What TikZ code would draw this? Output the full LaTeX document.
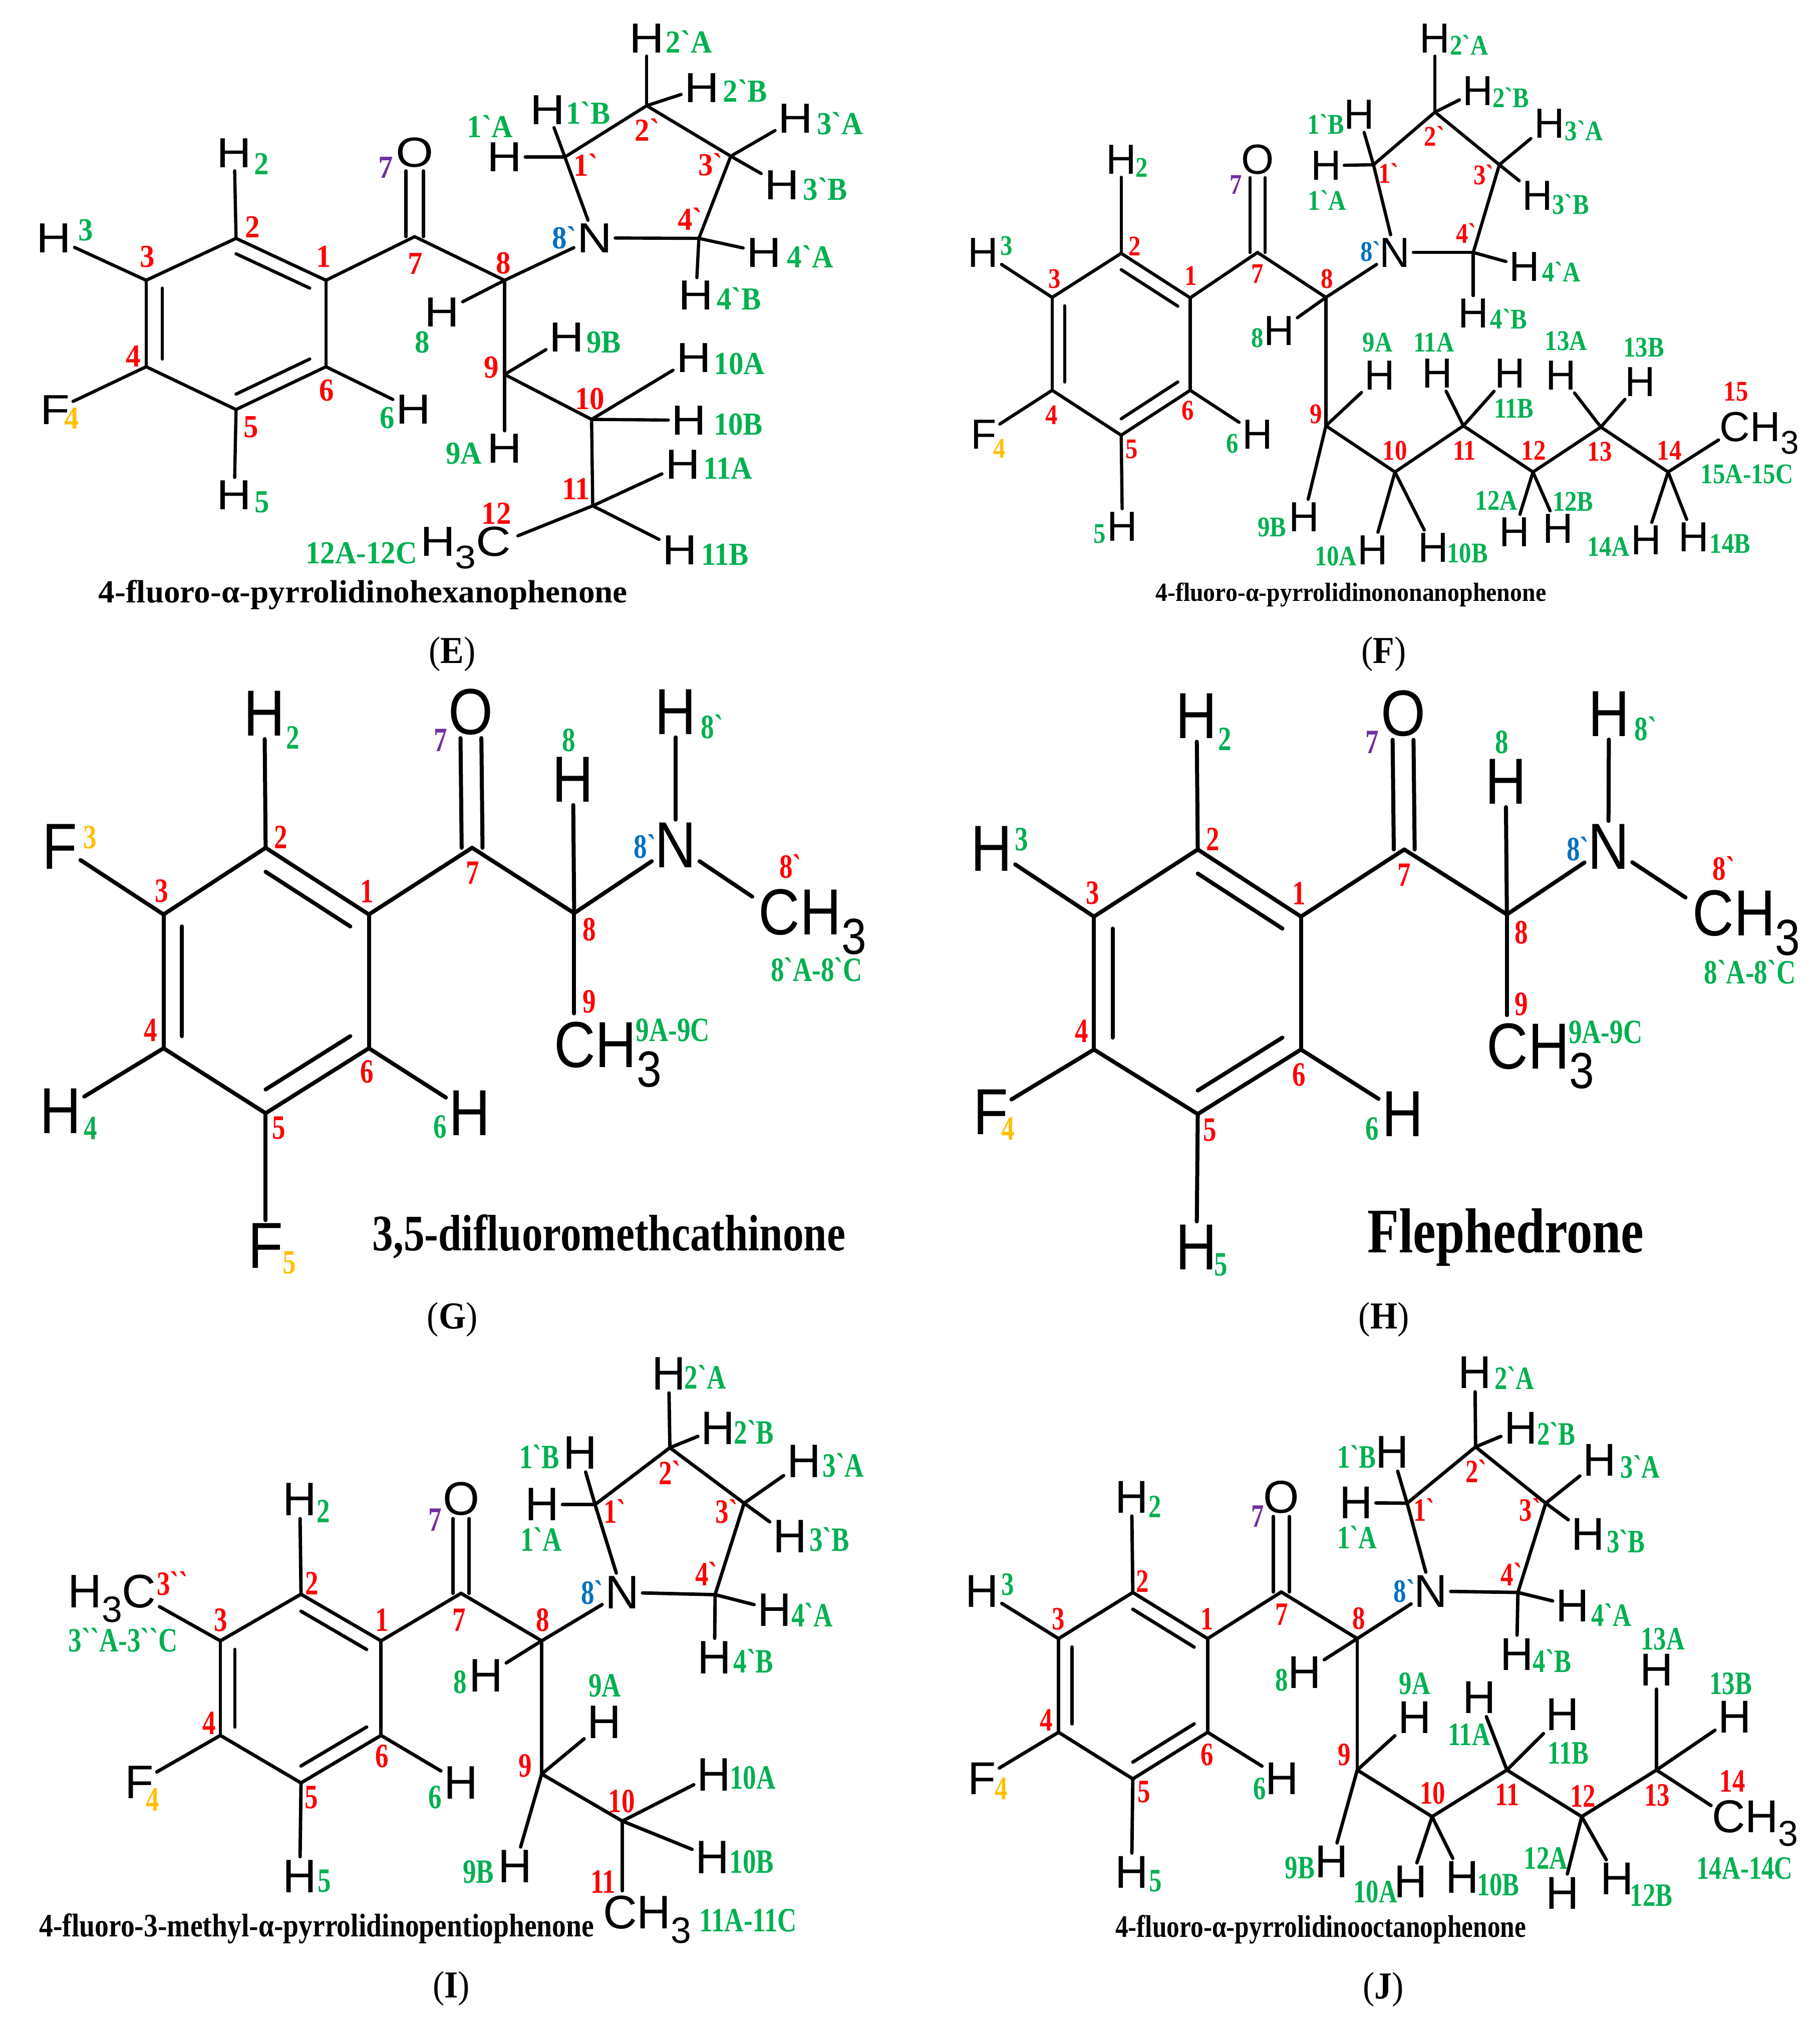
\documentclass[tikz,border=0pt]{standalone}
\usepackage{fontspec}
\usepackage{graphicx}
\usetikzlibrary{calc}
\setmainfont{Liberation Serif}
\newfontfamily\sansN{Liberation Sans}
\newfontfamily\sansW{Liberation Sans}[FakeStretch=1.15]
\newfontfamily\sansC{Liberation Sans}[FakeStretch=0.88]
\newfontfamily\serA{Liberation Serif}[FakeStretch=0.92,Ligatures=ResetAll]
\newfontfamily\serB{Liberation Serif}[FakeStretch=0.86,Ligatures=ResetAll]
\newfontfamily\serC{Liberation Serif}[FakeStretch=0.78,Ligatures=ResetAll]
\newcommand\fs[1]{\fontsize{#1}{#1}\selectfont}
\newcommand\sbs[1]{\raisebox{-.3em}{\scalebox{.78}{#1}}}
\definecolor{cgreen}{HTML}{00B050}
\definecolor{cred}{HTML}{FF0000}
\definecolor{cblue}{HTML}{0070C0}
\definecolor{cpurple}{HTML}{7030A0}
\definecolor{corange}{HTML}{FFC000}
\newcounter{lab}
\tikzset{
  atom/.style={inner sep=1.6pt,outer sep=0pt,text=black,font=\psans\fs{\asz}},
  lab/.style={inner sep=0pt,outer sep=0pt,font=\pser\bfseries\fs{\lsz}},
  bond/.style={draw=black,line width=\blw,line cap=round},
  captxt/.style={inner sep=0pt,font=\bfseries\fs{20}},
  plab/.style={inner sep=0pt,font=\pplab},
}
\newcommand\pplab{\serA\fs{19}}
\newcommand\CA[3]{\coordinate (#1) at (#2,#3);}
\newcommand\AT[4]{\node[atom] (#1) at (#2,#3) {#4};}
\newcommand\Lg[3]{\stepcounter{lab}\node[lab,text=cgreen] (g\thelab) at (#1,#2) {#3};}
\newcommand\Lr[3]{\stepcounter{lab}\node[lab,text=cred] (r\thelab) at (#1,#2) {#3};}
\newcommand\Lb[3]{\stepcounter{lab}\node[lab,text=cblue] (b\thelab) at (#1,#2) {#3};}
\newcommand\Lp[3]{\stepcounter{lab}\node[lab,text=cpurple] (p\thelab) at (#1,#2) {#3};}
\newcommand\Lo[3]{\stepcounter{lab}\node[lab,text=corange] (y\thelab) at (#1,#2) {#3};}
\newcommand\BL[1]{\foreach \pa/\pb in {#1}{\draw[bond] (\pa) -- (\pb);}}
\newcommand\BENZ[1]{%
  \BL{c1/c2,c2/c3,c3/c4,c4/c5,c5/c6,c6/c1,c1/c7,c7/c8}
  \draw[bond] ($(c1)!.18!(cen)$) -- ($(c2)!.18!(cen)$);
  \draw[bond] ($(c3)!.18!(cen)$) -- ($(c4)!.18!(cen)$);
  \draw[bond] ($(c5)!.18!(cen)$) -- ($(c6)!.18!(cen)$);
  \draw[bond] ($(c7)+(-#1,0)$) -- ($(o.south)+(-#1,0)$);
  \draw[bond] ($(c7)+(#1,0)$) -- ($(o.south)+(#1,0)$);
}
\newcommand\CAP[5]{\node[captxt] (caption) at (#1,#2) {\resizebox{#3pt}{#4pt}{#5}};}
\newcommand\PL[3]{\node[plab] (panellabel) at (#1,#2) {(\textbf{#3})};}
\begin{document}
\begin{tikzpicture}
\useasboundingbox (0pt,0pt) rectangle (908.25pt,-1010.5pt);
\fill[white] (0pt,0pt) rectangle (908.25pt,-1010.5pt);
% ===== E =====
\def\psans{\sansW}\def\pser{\serA}\def\asz{21}\def\lsz{16}\def\blw{1.6pt}
\begin{scope}[x=0.2895pt,y=-0.21365pt,name prefix=E-]
\CA{c1}{562}{655}\CA{c2}{407}{557}\CA{c3}{252}{655}\CA{c4}{252}{857}\CA{c5}{407}{957}\CA{c6}{562}{857}\CA{cen}{407}{757}
\CA{c7}{715}{553}\CA{c8}{870}{655}\CA{c9}{870}{875}\CA{c10}{1020}{980}\CA{c11}{1022}{1182}
\CA{p1}{974}{367}\CA{p2}{1115}{247}\CA{p3}{1260}{365}\CA{p4}{1205}{557}
\AT{h2}{404}{358}{H}\Lg{451}{383}{2}
\AT{h3}{93}{556}{H}\Lg{148}{538}{3}
\AT{f}{95}{958}{F}\Lo{124}{978}{4}
\AT{h5}{404}{1157}{H}\Lg{452}{1173}{5}
\AT{h6}{713}{957}{H}\Lg{668}{977}{6}
\AT{o}{715}{357}{O}\Lp{665}{392}{7}
\AT{h8}{762}{730}{H}\Lg{728}{800}{8}
\AT{n}{1025}{556}{N}\Lb{973}{555}{8`}
\AT{h1a}{870}{367}{H}\Lg{845}{295}{1`A}
\AT{h1b}{944}{257}{H}\Lg{1014}{264}{1`B}
\AT{h2a}{1115}{90}{H}\Lg{1188}{98}{2`A}
\AT{h2b}{1210}{205}{H}\Lg{1285}{212}{2`B}
\AT{h3a}{1372}{277}{H}\Lg{1448}{288}{3`A}
\AT{h3b}{1348}{433}{H}\Lg{1423}{442}{3`B}
\AT{h4a}{1317}{590}{H}\Lg{1397}{600}{4`A}
\AT{h4b}{1200}{690}{H}\Lg{1274}{698}{4`B}
\AT{h9b}{977}{788}{H}\Lg{1041}{800}{9B}
\AT{h9a}{870}{1048}{H}\Lg{800}{1060}{9A}
\AT{h10a}{1196}{836}{H}\Lg{1275}{850}{10A}
\AT{h10b}{1188}{982}{H}\Lg{1273}{992}{10B}
\AT{h11a}{1177}{1085}{H}\Lg{1255}{1094}{11A}
\AT{h11b}{1172}{1285}{H}\Lg{1250}{1296}{11B}
\AT{ch3}{803}{1280}{H\sbs{3}C}\Lg{623}{1293}{12A-12C}
\CA{ch3e}{893}{1252}
\Lr{558}{600}{1}\Lr{435}{530}{2}\Lr{254}{600}{3}\Lr{230}{832}{4}\Lr{433}{998}{5}\Lr{563}{912}{6}\Lr{716}{616}{7}\Lr{868}{615}{8}\Lr{847}{858}{9}\Lr{1017}{932}{10}\Lr{993}{1143}{11}\Lr{856}{1200}{12}
\Lr{1010}{385}{1`}\Lr{1116}{303}{2`}\Lr{1225}{385}{3`}\Lr{1190}{512}{4`}
\BENZ{15}
\BL{c8/n,c8/c9,c9/c10,c10/c11,c11/ch3e,n/p1,p1/p2,p2/p3,p3/p4,p4/n,c2/h2,c3/h3,c4/f,c5/h5,c6/h6,c8/h8,c9/h9a,c9/h9b,c10/h10a,c10/h10b,c11/h11a,c11/h11b,p1/h1a,p1/h1b,p2/h2a,p2/h2b,p3/h3a,p3/h3b,p4/h4a,p4/h4b}
\CAP{626}{1390}{264}{11.3}{4-fluoro-α-pyrrolidinohexanophenone}
\PL{780}{1529}{E}
\end{scope}
% ===== F =====
\def\psans{\sansN}\def\pser{\serB}\def\asz{21}\def\lsz{14.2}\def\blw{1.6pt}
\begin{scope}[shift={(454pt,0pt)},x=0.2895pt,y=-0.21365pt,name prefix=F-]
\CA{c1}{484}{696}\CA{c2}{365}{592}\CA{c3}{246}{695}\CA{c4}{246}{912}\CA{c5}{365}{1017}\CA{c6}{484}{912}\CA{cen}{365}{804}
\CA{c7}{600}{590}\CA{c8}{718}{695}\CA{c9}{718}{995}\CA{c10}{837}{1103}\CA{c11}{955}{995}\CA{c12}{1075}{1103}\CA{c13}{1192}{998}\CA{c14}{1308}{1103}
\CA{p1}{800}{385}\CA{p2}{906}{262}\CA{p3}{1017}{385}\CA{p4}{972}{590}
\AT{h2}{365}{373}{H}\Lg{400}{392}{2}
\AT{h3}{127}{590}{H}\Lg{167}{575}{3}
\AT{f}{128}{1015}{F}\Lo{155}{1048}{4}
\AT{h5}{367}{1230}{H}\Lg{328}{1247}{5}
\AT{h6}{600}{1015}{H}\Lg{557}{1037}{6}
\AT{o}{600}{373}{O}\Lp{563}{432}{7}
\AT{h8}{637}{773}{H}\Lg{600}{790}{8}
\AT{n}{837}{590}{N}\Lb{795}{588}{8`}
\AT{h1a}{718}{387}{H}\Lg{720}{468}{1`A}
\AT{h1b}{775}{268}{H}\Lg{718}{290}{1`B}
\AT{h2a}{906}{90}{H}\Lg{965}{105}{2`A}
\AT{h2b}{980}{212}{H}\Lg{1037}{228}{2`B}
\AT{h3a}{1103}{288}{H}\Lg{1163}{305}{3`A}
\AT{h3b}{1083}{457}{H}\Lg{1140}{477}{3`B}
\AT{h4a}{1060}{623}{H}\Lg{1124}{635}{4`A}
\AT{h4b}{972}{732}{H}\Lg{1033}{745}{4`B}
\AT{h9a}{811}{877}{H}\Lg{807}{800}{9A}
\AT{h9b}{680}{1208}{H}\Lg{625}{1232}{9B}
\AT{h10a}{799}{1285}{H}\Lg{735}{1300}{10A}
\AT{h10b}{903}{1280}{H}\Lg{962}{1293}{10B}
\AT{h11a}{910}{873}{H}\Lg{904}{800}{11A}
\AT{h11b}{1035}{873}{H}\Lg{1042}{955}{11B}
\AT{h12a}{1043}{1243}{H}\Lg{1012}{1170}{12A}
\AT{h12b}{1118}{1235}{H}\Lg{1144}{1172}{12B}
\AT{h13a}{1123}{877}{H}\Lg{1132}{797}{13A}
\AT{h13b}{1260}{892}{H}\Lg{1266}{812}{13B}
\AT{ch3}{1465}{1012}{CH\sbs{3}}\Lr{1425}{915}{15}\Lg{1444}{1108}{15A-15C}
\CA{ch3e}{1395}{1028}
\AT{h14a}{1270}{1262}{H}\Lg{1205}{1277}{14A}
\AT{h14b}{1352}{1255}{H}\Lg{1415}{1270}{14B}
\Lr{485}{645}{1}\Lr{388}{575}{2}\Lr{250}{652}{3}\Lr{245}{970}{4}\Lr{383}{1050}{5}\Lr{480}{960}{6}\Lr{600}{640}{7}\Lr{720}{652}{8}\Lr{701}{968}{9}\Lr{837}{1053}{10}\Lr{957}{1053}{11}\Lr{1076}{1053}{12}\Lr{1190}{1055}{13}\Lr{1310}{1053}{14}
\Lr{826}{405}{1`}\Lr{905}{318}{2`}\Lr{990}{408}{3`}\Lr{960}{545}{4`}
\BENZ{13}
\BL{c8/n,c8/c9,c9/c10,c10/c11,c11/c12,c12/c13,c13/c14,c14/ch3e,n/p1,p1/p2,p2/p3,p3/p4,p4/n,c2/h2,c3/h3,c4/f,c5/h5,c6/h6,c8/h8,c9/h9a,c9/h9b,c10/h10a,c10/h10b,c11/h11a,c11/h11b,c12/h12a,c12/h12b,c13/h13a,c13/h13b,c14/h14a,c14/h14b,p1/h1a,p1/h1b,p2/h2a,p2/h2b,p3/h3a,p3/h3b,p4/h4a,p4/h4b}
\CAP{761}{1390}{195}{9.2}{4-fluoro-α-pyrrolidinononanophenone}
\PL{818}{1529}{F}
\end{scope}
% ===== G =====
\def\psans{\sansC}\def\pser{\serC}\def\asz{32.5}\def\lsz{17}\def\blw{2pt}
\begin{scope}[shift={(0pt,-332.5pt)},x=0.2895pt,y=-0.21205pt,name prefix=G-]
\CA{c1}{636}{585}\CA{c2}{458}{428}\CA{c3}{282}{585}\CA{c4}{282}{900}\CA{c5}{458}{1053}\CA{c6}{636}{900}\CA{cen}{458}{742}
\CA{c7}{814}{428}\CA{c8}{990}{582}
\AT{h2}{456}{112}{H}\Lg{505}{168}{2}
\AT{f3}{103}{425}{F}\Lo{155}{403}{3}
\AT{h4}{104}{1048}{H}\Lg{156}{1088}{4}
\AT{h6}{810}{1052}{H}\Lg{759}{1085}{6}
\AT{f5}{458}{1365}{F}\Lo{499}{1405}{5}
\AT{o}{812}{108}{O}\Lp{760}{175}{7}
\AT{h8}{988}{267}{H}\Lg{981}{175}{8}
\AT{n}{1165}{422}{N}\Lb{1112}{425}{8`}
\AT{hn}{1165}{108}{H}\Lg{1228}{143}{8`}
\AT{ch3r}{1401}{602}{CH\sbs{3}}\Lr{1363}{472}{8`}\Lg{1408}{715}{8`A-8`C}
\CA{ch3re}{1297}{543}
\AT{ch3l}{1048}{915}{CH\sbs{3}}\Lg{1160}{858}{9A-9C}
\CA{ch3le}{990}{818}
\Lr{633}{530}{1}\Lr{484}{403}{2}\Lr{279}{530}{3}\Lr{260}{857}{4}\Lr{481}{1088}{5}\Lr{633}{955}{6}\Lr{815}{487}{7}\Lr{1016}{620}{8}\Lr{1016}{790}{9}
\BENZ{18}
\BL{c2/h2,c3/f3,c4/h4,c5/f5,c6/h6,c8/h8,c8/n,n/hn,n/ch3re,c8/ch3le}
\CAP{1050}{1343}{236}{18}{3,5-difluoromethcathinone}
\PL{780}{1539}{G}
\end{scope}
% ===== H =====
\begin{scope}[shift={(454pt,-332.5pt)},x=0.2895pt,y=-0.21205pt,name prefix=H-]
\CA{c1}{675}{590}\CA{c2}{497}{432}\CA{c3}{318}{590}\CA{c4}{318}{903}\CA{c5}{497}{1055}\CA{c6}{675}{903}\CA{cen}{497}{747}
\CA{c7}{853}{432}\CA{c8}{1030}{585}
\AT{h2}{495}{118}{H}\Lg{544}{172}{2}
\AT{h3}{141}{430}{H}\Lg{193}{408}{3}
\AT{f}{140}{1050}{F}\Lo{170}{1090}{4}
\AT{h6}{850}{1055}{H}\Lg{798}{1090}{6}
\AT{h5}{495}{1368}{H}\Lg{537}{1410}{5}
\AT{o}{851}{112}{O}\Lp{798}{180}{7}
\AT{h8}{1028}{272}{H}\Lg{1021}{180}{8}
\AT{n}{1205}{425}{N}\Lb{1152}{430}{8`}
\AT{hn}{1206}{113}{H}\Lg{1269}{148}{8`}
\AT{ch3r}{1443}{605}{CH\sbs{3}}\Lr{1404}{477}{8`}\Lg{1449}{720}{8`A-8`C}
\CA{ch3re}{1338}{545}
\AT{ch3l}{1088}{918}{CH\sbs{3}}\Lg{1200}{862}{9A-9C}
\CA{ch3le}{1030}{822}
\Lr{672}{535}{1}\Lr{523}{408}{2}\Lr{316}{535}{3}\Lr{297}{860}{4}\Lr{518}{1092}{5}\Lr{672}{962}{6}\Lr{853}{492}{7}\Lr{1055}{628}{8}\Lr{1055}{796}{9}
\BENZ{18}
\BL{c2/h2,c3/h3,c4/f,c5/h5,c6/h6,c8/h8,c8/n,n/hn,n/ch3re,c8/ch3le}
\CAP{1028}{1345}{138}{22}{Flephedrone}
\PL{818}{1539}{H}
\end{scope}
% ===== I =====
\def\psans{\sansN}\def\pser{\serC}\def\asz{23.5}\def\lsz{17}\def\blw{1.7pt}
\begin{scope}[shift={(0pt,-662.5pt)},x=0.2895pt,y=-0.22163pt,name prefix=I-]
\CA{c1}{657}{707}\CA{c2}{519}{602}\CA{c3}{380}{707}\CA{c4}{380}{920}\CA{c5}{519}{1027}\CA{c6}{657}{920}\CA{cen}{519}{815}
\CA{c7}{795}{600}\CA{c8}{934}{707}\CA{c9}{934}{1007}\CA{c10}{1073}{1113}
\CA{p1}{1026}{400}\CA{p2}{1155}{272}\CA{p3}{1283}{397}\CA{p4}{1233}{603}
\AT{h2}{517}{388}{H}\Lg{558}{415}{2}
\AT{ch3m}{193}{612}{H\sbs{3}C}\Lr{297}{578}{3``}\Lg{212}{705}{3``A-3``C}
\CA{ch3me}{275}{630}
\AT{f}{240}{1025}{F}\Lo{263}{1065}{4}
\AT{h5}{517}{1237}{H}\Lg{559}{1248}{5}
\AT{h6}{795}{1027}{H}\Lg{750}{1060}{6}
\AT{o}{795}{387}{O}\Lp{750}{435}{7}
\AT{h8}{838}{785}{H}\Lg{793}{800}{8}
\AT{n}{1073}{598}{N}\Lb{1021}{598}{8`}
\AT{h1a}{935}{400}{H}\Lg{933}{478}{1`A}
\AT{h1b}{1000}{283}{H}\Lg{930}{292}{1`B}
\AT{h2a}{1153}{105}{H}\Lg{1216}{113}{2`A}
\AT{h2b}{1238}{228}{H}\Lg{1300}{237}{2`B}
\AT{h3a}{1386}{303}{H}\Lg{1454}{311}{3`A}
\AT{h3b}{1362}{472}{H}\Lg{1430}{478}{3`B}
\AT{h4a}{1335}{637}{H}\Lg{1400}{648}{4`A}
\AT{h4b}{1232}{745}{H}\Lg{1299}{752}{4`B}
\AT{h9a}{1042}{890}{H}\Lg{1043}{808}{9A}
\AT{h9b}{888}{1215}{H}\Lg{825}{1228}{9B}
\AT{h10a}{1231}{1008}{H}\Lg{1298}{1015}{10A}
\AT{h10b}{1228}{1195}{H}\Lg{1296}{1205}{10B}
\AT{ch3}{1116}{1335}{CH\sbs{3}}\Lg{1290}{1337}{11A-11C}
\CA{ch3e}{1073}{1270}
\Lr{659}{660}{1}\Lr{538}{577}{2}\Lr{381}{660}{3}\Lr{361}{892}{4}\Lr{537}{1060}{5}\Lr{659}{967}{6}\Lr{792}{660}{7}\Lr{936}{660}{8}\Lr{906}{988}{9}\Lr{1072}{1068}{10}\Lr{1040}{1250}{11}
\Lr{1060}{415}{1`}\Lr{1155}{328}{2`}\Lr{1253}{415}{3`}\Lr{1218}{556}{4`}
\BENZ{14}
\BL{c8/n,c8/c9,c9/c10,c10/ch3e,n/p1,p1/p2,p2/p3,p3/p4,p4/n,c2/h2,c3/ch3me,c4/f,c5/h5,c6/h6,c8/h8,c9/h9a,c9/h9b,c10/h10a,c10/h10b,p1/h1a,p1/h1b,p2/h2a,p2/h2b,p3/h3a,p3/h3b,p4/h4a,p4/h4b}
\CAP{546}{1355}{277}{11.5}{4-fluoro-3-methyl-α-pyrrolidinopentiophenone}
\PL{778}{1490}{I}
\end{scope}
% ===== J =====
\def\psans{\sansN}\def\pser{\serC}\def\asz{23}\def\lsz{16.3}\def\blw{1.7pt}
\begin{scope}[shift={(454pt,-662.5pt)},x=0.2895pt,y=-0.22163pt,name prefix=J-]
\CA{c1}{514}{702}\CA{c2}{385}{598}\CA{c3}{257}{702}\CA{c4}{257}{913}\CA{c5}{385}{1018}\CA{c6}{514}{913}\CA{cen}{385}{808}
\CA{c7}{641}{597}\CA{c8}{772}{702}\CA{c9}{772}{998}\CA{c10}{901}{1103}\CA{c11}{1030}{998}\CA{c12}{1159}{1103}\CA{c13}{1288}{998}
\CA{p1}{858}{397}\CA{p2}{976}{270}\CA{p3}{1097}{397}\CA{p4}{1049}{598}
\AT{h2}{383}{383}{H}\Lg{423}{405}{2}
\AT{h3}{125}{595}{H}\Lg{169}{580}{3}
\AT{f}{125}{1017}{F}\Lo{158}{1040}{4}
\AT{h5}{383}{1228}{H}\Lg{424}{1248}{5}
\AT{h6}{642}{1017}{H}\Lg{604}{1040}{6}
\AT{o}{641}{383}{O}\Lp{600}{427}{7}
\AT{h8}{681}{778}{H}\Lg{642}{795}{8}
\AT{n}{899}{595}{N}\Lb{853}{595}{8`}
\AT{h1a}{770}{396}{H}\Lg{772}{474}{1`A}
\AT{h1b}{832}{282}{H}\Lg{771}{292}{1`B}
\AT{h2a}{975}{103}{H}\Lg{1043}{115}{2`A}
\AT{h2b}{1054}{228}{H}\Lg{1115}{240}{2`B}
\AT{h3a}{1190}{300}{H}\Lg{1260}{315}{3`A}
\AT{h3b}{1170}{467}{H}\Lg{1235}{483}{3`B}
\AT{h4a}{1143}{628}{H}\Lg{1210}{648}{4`A}
\AT{h4b}{1047}{737}{H}\Lg{1108}{752}{4`B}
\AT{h9a}{871}{880}{H}\Lg{871}{803}{9A}
\AT{h9b}{728}{1205}{H}\Lg{673}{1218}{9B}
\AT{h10a}{864}{1250}{H}\Lg{803}{1272}{10A}
\AT{h10b}{953}{1240}{H}\Lg{1015}{1257}{10B}
\AT{h11a}{982}{835}{H}\Lg{965}{918}{11A}
\AT{h11b}{1126}{873}{H}\Lg{1136}{960}{11B}
\AT{h12a}{1126}{1275}{H}\Lg{1097}{1197}{12A}
\AT{h12b}{1220}{1243}{H}\Lg{1279}{1280}{12B}
\AT{h13a}{1288}{773}{H}\Lg{1299}{703}{13A}
\AT{h13b}{1423}{878}{H}\Lg{1416}{803}{13B}
\AT{ch3}{1458}{1118}{CH\sbs{3}}\Lr{1419}{1023}{14}\Lg{1440}{1220}{14A-14C}
\CA{ch3e}{1382}{1078}
\Lr{513}{658}{1}\Lr{402}{573}{2}\Lr{257}{658}{3}\Lr{236}{885}{4}\Lr{404}{1047}{5}\Lr{513}{963}{6}\Lr{642}{648}{7}\Lr{775}{657}{8}\Lr{750}{963}{9}\Lr{902}{1050}{10}\Lr{1031}{1053}{11}\Lr{1161}{1057}{12}\Lr{1289}{1055}{13}
\Lr{887}{412}{1`}\Lr{977}{325}{2`}\Lr{1070}{412}{3`}\Lr{1038}{557}{4`}
\BENZ{14}
\BL{c8/n,c8/c9,c9/c10,c10/c11,c11/c12,c12/c13,c13/ch3e,n/p1,p1/p2,p2/p3,p3/p4,p4/n,c2/h2,c3/h3,c4/f,c5/h5,c6/h6,c8/h8,c9/h9a,c9/h9b,c10/h10a,c10/h10b,c11/h11a,c11/h11b,c12/h12a,c12/h12b,c13/h13a,c13/h13b,p1/h1a,p1/h1b,p2/h2a,p2/h2b,p3/h3a,p3/h3b,p4/h4a,p4/h4b}
\CAP{709}{1357}{205}{11}{4-fluoro-α-pyrrolidinooctanophenone}
\PL{817}{1492}{J}
\end{scope}
\end{tikzpicture}
\end{document}
